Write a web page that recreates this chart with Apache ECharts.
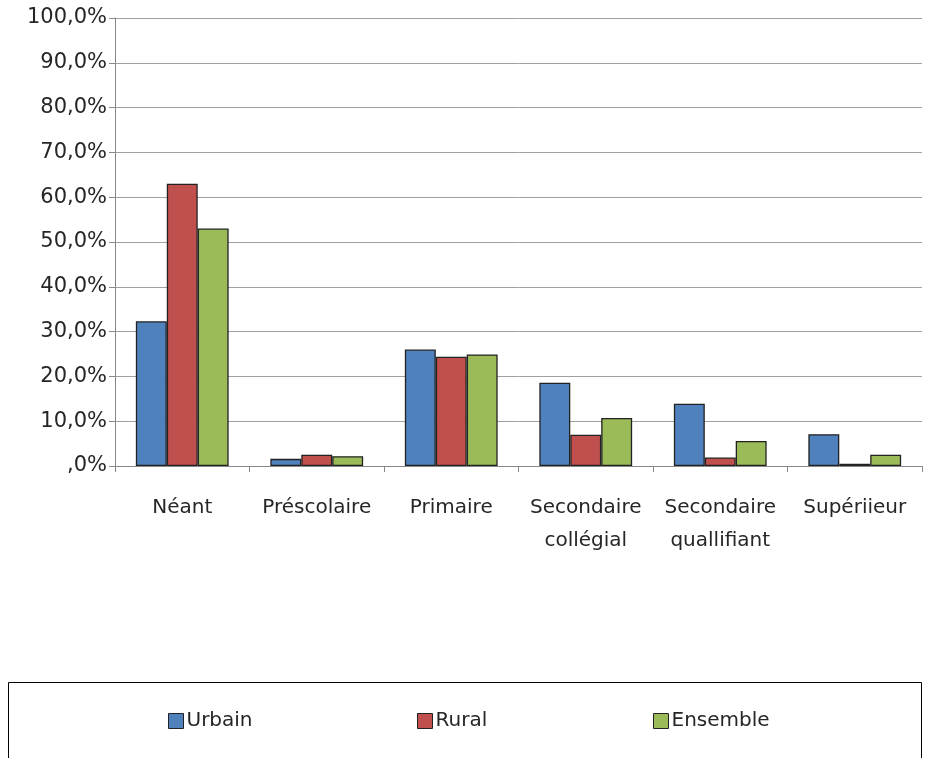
<!DOCTYPE html>
<html><head><meta charset="utf-8">
<script src="https://cdn.jsdelivr.net/npm/echarts@6/dist/echarts.min.js"></script>
<style>html,body{margin:0;padding:0;background:#fff}#c{width:932px;height:758px}</style>
</head><body><div id="c"></div>
<script>
const categories = ['Néant', 'Préscolaire', 'Primaire', 'Secondaire\ncollégial', 'Secondaire\nquallifiant', 'Supériieur'];
const urbain   = [32.3, 1.6, 26.0, 18.6, 13.9, 7.1];
const rural    = [63.0, 2.5, 24.4, 7.0, 1.9, 0.5];
const ensemble = [53.0, 2.2, 24.9, 10.7, 5.6, 2.5];
const seriesNames = ['Urbain', 'Rural', 'Ensemble'];
const colors = ['#4F81BD', '#C0504D', '#9BBB59'];

const FONT = 'DejaVu Sans';
const TXT = '#262626';
const chart = echarts.init(document.getElementById('c'), null, {renderer: 'canvas'});
const mk = (name, data, color) => ({
  name, type: 'bar', data, barGap: '0%', barCategoryGap: '31%',
  itemStyle: {color, borderColor: '#222', borderWidth: 1.3},
  emphasis: {disabled: true}, animation: false
});
const legendLeft = [163, 412, 648];
chart.setOption({
  animation: false,
  grid: {left: 115, right: 10, top: 18, bottom: 292, containLabel: false},
  xAxis: {
    type: 'category', data: categories,
    axisLine: {lineStyle: {color: '#888', width: 1}},
    axisTick: {show: true, length: 6, lineStyle: {color: '#888'}},
    axisLabel: {color: TXT, fontFamily: FONT, fontSize: 20, margin: 25, lineHeight: 33, interval: 0}
  },
  yAxis: {
    type: 'value', min: 0, max: 100, interval: 10,
    axisLine: {show: true, lineStyle: {color: '#888'}},
    axisTick: {show: true, length: 6, lineStyle: {color: '#888'}},
    splitLine: {lineStyle: {color: '#a0a0a0', width: 1}},
    axisLabel: {color: TXT, fontFamily: FONT, fontSize: 21, margin: 8,
      formatter: v => v === 0 ? ',0%' : v.toFixed(1).replace('.', ',') + '%'}
  },
  legend: seriesNames.map((n, i) => ({
    data: [n], left: legendLeft[i], top: 706, itemWidth: 15, itemHeight: 15, itemGap: 6,
    icon: 'rect', selectedMode: false,
    textStyle: {color: TXT, fontFamily: FONT, fontSize: 20, padding: [0, 0, 0, -2]},
    itemStyle: {borderColor: '#222', borderWidth: 1}
  })),
  graphic: [{
    type: 'rect', shape: {x: 8.5, y: 682.5, width: 913, height: 90},
    style: {fill: 'none', stroke: '#000', lineWidth: 1}, silent: true
  }],
  series: [mk(seriesNames[0], urbain, colors[0]), mk(seriesNames[1], rural, colors[1]), mk(seriesNames[2], ensemble, colors[2])]
});
</script></body></html>
